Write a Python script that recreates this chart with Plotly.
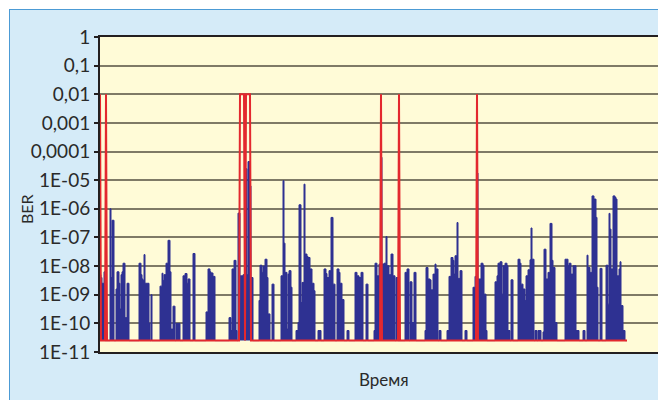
import plotly.graph_objects as go

# ---------------- data ----------------
BASE = 2.5e-11          # floor level of both series
N_POINTS = 528          # number of time samples
RED_LEVEL = 0.01        # level of red error spikes

# blue BER series: bursts as (start index, list of log10(BER) values); None = floor
blue_bursts = [
    (0,   [-8.3, -8.4, -8.6, -8.6, -8.2]),
    (10,  [-6.0, -8.4, -6.4, -6.4]),
    (16,  [-8.8, -8.2, -8.2, -8.6, -9.5, -8.3, -8.2, -7.9, -7.9, -9.8, -9.8, -8.6, -8.6]),
    (39,  [-7.9, -7.9, -8.3, -8.45, -8.5, -7.6, -8.6, -8.6, -8.6, -8.6, -10.0, None, -9.0]),
    (60,  [-8.7, -8.7, -8.25, -8.5, -8.3, -8.3, -7.9, -7.9, -7.1, -7.1, -8.2, -10.2, -10.2,
           -9.4, -9.4, None, -10.0, -10.0, -10.0, -10.0]),
    (83,  [-8.34, -8.34, -8.26, -8.26, -8.6, -8.45, -8.45, None, None, None, -7.56, -7.56]),
    (106, [-9.6, -9.6, -8.1, -8.1, -8.2, -8.24, -8.24, -8.36, -8.36]),
    (129, [-9.8, -9.8, -10.25, -8.1, -8.1, -7.8, -7.8, -10.25, None, -6.15, -6.15, -8.34,
           -8.34, -8.34, -8.3, -8.3, -4.6, -4.6, -8.3, -4.35, -4.35, -5.2, -8.4, -8.4]),
    (159, [-9.2, -7.97, -7.97, -8.22, -8.0, -8.0, -7.76, -7.76, -8.4, -9.67, -9.67, None,
           None, -8.63, -8.63]),
    (181, [-8.34, -8.34, -5.02, -7.2, -8.22, -8.22, -10.2, -8.28, -8.16, -8.16, -8.74]),
    (196, [-10.25, -10.25, -9.97, -5.86, -5.86, -9.27, -8.57, -8.57, -5.14, -7.58, -7.58,
           -7.66, -7.7, -7.7, -8.1, -8.1, -8.6, -8.6, -8.86]),
    (218, [-10.25, -10.25, -10.25]),
    (224, [-8.1, -8.1, -8.26, -8.4, -8.4, -8.16, -8.16, -6.3, -6.3, -8.63, -8.63, None, None,
           -8.1, -8.1, -8.22, -8.6, -8.6, -9.17, -9.17]),
    (247, [-10.25, -10.25]),
    (255, [-8.22, -8.22, -8.34, -8.34, -8.4, -8.4, -8.22, -8.22, None, None, None, -8.63, -8.63]),
    (274, [-10.25, -7.9, -7.9, -8.34, -8.34, -7.93, -7.93, -4.2, -7.93, -7.93, -7.9, -7.9,
           -6.97, -7.99, -7.99, -8.3, -8.3, -7.58, -7.58, -8.34, -8.34, None, -8.4, -8.4]),
    (305, [-8.22, -8.22, -8.1, -8.1, None, -8.55, -8.55, -9.97, -9.97, -8.22, -8.22]),
    (325, [-10.25, -8.05, -8.05, -8.45, -8.45, -8.48, -8.83, -8.83, -8.28, -8.28, -7.93,
           -8.1, -8.1, None, -10.25, -10.25]),
    (347, [-10.25, -10.25, -8.36, -8.36, -7.7, -7.7, -7.8, -8.28, -7.64, -7.64, -6.48,
           -8.43, -8.43, -8.16, -8.16]),
    (365, [-10.25, -10.25]),
    (373, [-8.74, -8.74, -8.36, -8.36, -4.75, -8.45, -8.45, -8.45, -7.9, -7.9, -7.97,
           -8.98, -8.98, -10.25]),
    (395, [-8.55, -8.55, -8.34, -7.9, -7.9, -7.85, -7.85, -8.98, -7.99, -7.99, -7.9, -7.9,
           -7.99, -10.25, -10.25, None, -8.48, -8.48]),
    (418, [-7.76, -7.76, -7.9, -8.63, -8.63, -8.8, -8.8, -9.2, -8.34, -8.34, -8.13, -8.13,
           -7.78, -6.67, -7.76, -7.76, None, -10.25, -10.25, None, -10.25, -10.25, -10.25]),
    (443, [-10.3, -7.41, -7.41, -8.45, -8.45, -8.22, -8.22, -6.51, -6.51, -7.8, -8.05,
           -8.05, -9.97, -9.97]),
    (465, [-7.76, -7.76, -7.76, -7.99, -7.9, -7.9, -8.28, -8.28, -7.99, -7.99, -7.99,
           -10.25, -10.25, -10.25]),
    (483, [-10.25, -10.25, None, None, -7.62, -8.05, -8.05, -8.22, -8.22, -5.55, -5.55,
           -5.66, -5.66, -6.3, -8.74, None, None, -8.08, -8.08]),
    (506, [-7.97, -7.97, -9.33, -6.16, -6.71, -8.1, -8.1, -5.55, -5.55, -5.6, -5.66, -8.34,
           -8.34, -8.1, -7.85, -9.38, -9.38, -10.25, -10.25]),
]

# red series: intervals (first, last index) where it sits at RED_LEVEL
red_spikes = [(0, 0), (6, 6), (140, 144), (146, 150), (281, 281), (299, 299), (377, 377)]

y_tickvals = [1, 0.1, 0.01, 0.001, 0.0001, 1e-5, 1e-6, 1e-7, 1e-8, 1e-9, 1e-10, 1e-11]
y_ticktext = ["1", "0,1", "0,01", "0,001", "0,0001", "1E-05", "1E-06", "1E-07",
              "1E-08", "1E-09", "1E-10", "1E-11"]

# ---------------- build series ----------------
t = list(range(N_POINTS))
blue = [BASE] * N_POINTS
for start, vals in blue_bursts:
    for k, e in enumerate(vals):
        if e is not None:
            blue[start + k] = 10 ** e

red = [BASE] * N_POINTS
for a, b in red_spikes:
    for i in range(a, b + 1):
        red[i] = RED_LEVEL

BLUE = "#2E3192"
RED = "#E3282E"
FONT = "Lato"

fig = go.Figure()
fig.add_trace(go.Scatter(x=t, y=[BASE] * N_POINTS, mode="lines",
                         line=dict(width=0, color="rgba(0,0,0,0)"),
                         hoverinfo="skip", showlegend=False))
fig.add_trace(go.Scatter(x=t, y=blue, mode="lines",
                         line=dict(color=BLUE, width=1, shape="hv"),
                         fill="tonexty", fillcolor=BLUE, showlegend=False))
fig.add_trace(go.Scatter(x=t, y=red, mode="lines",
                         line=dict(color=RED, width=2), showlegend=False))

# the page body adds an 8 px offset; work in page pixels and subtract it
OFF = 8
PAGE_W, PAGE_H = 666, 400
W, H = PAGE_W - OFF, PAGE_H - OFF
PL, PR, PT, PB = 100, 664, 37, 352          # plot area in page pixels
L, R, T, B = PL - OFF, PAGE_W - PR, PT - OFF, PAGE_H - PB
pw, ph = PR - PL, PB - PT

def px(xp):
    return (xp - PL) / pw

def py(yp):
    return (PB - yp) / ph

fig.update_layout(
    width=W, height=H,
    margin=dict(l=L, r=R, t=T, b=B, autoexpand=False),
    paper_bgcolor="#D5EBF8",
    plot_bgcolor="#FFFBD7",
    showlegend=False,
    xaxis=dict(range=[0, pw], showgrid=False, zeroline=False, showticklabels=False,
               ticks="", showline=True, mirror=True, linecolor="#231F20", linewidth=2),
    yaxis=dict(type="log", range=[-11, 0], tickvals=y_tickvals, ticktext=y_ticktext,
               ticks="outside", ticklen=4, tickwidth=1.5, tickcolor="#231F20",
               showgrid=True, gridcolor="#7F7A66", gridwidth=2, zeroline=False,
               showline=True, mirror=True, linecolor="#231F20", linewidth=2,
               tickfont=dict(family=FONT, size=19, color="#2A2A2A")),
    annotations=[
        dict(text="BER", xref="paper", yref="paper", x=px(26), y=py(209),
             xanchor="center", yanchor="middle",
             showarrow=False, textangle=-90,
             font=dict(family=FONT, size=16, color="#2A2A2A")),
        dict(text="Время", xref="paper", yref="paper", x=px(384), y=py(380),
             xanchor="center", yanchor="middle",
             showarrow=False, font=dict(family=FONT, size=17, color="#2A2A2A")),
    ],
    shapes=[
        dict(type="rect", xref="paper", yref="paper", x0=px(-20), x1=px(9),
             y0=py(420), y1=py(-20), fillcolor="white", line=dict(width=0)),
        dict(type="rect", xref="paper", yref="paper", x0=px(-20), x1=px(700),
             y0=py(9), y1=py(-20), fillcolor="white", line=dict(width=0)),
        dict(type="line", xref="paper", yref="paper", x0=px(9.5), x1=px(9.5),
             y0=py(420), y1=py(9), line=dict(color="#4C9BD5", width=1)),
        dict(type="line", xref="paper", yref="paper", x0=px(9), x1=px(700),
             y0=py(9.5), y1=py(9.5), line=dict(color="#4C9BD5", width=1)),
    ],
)

fig.write_html("out.html")
